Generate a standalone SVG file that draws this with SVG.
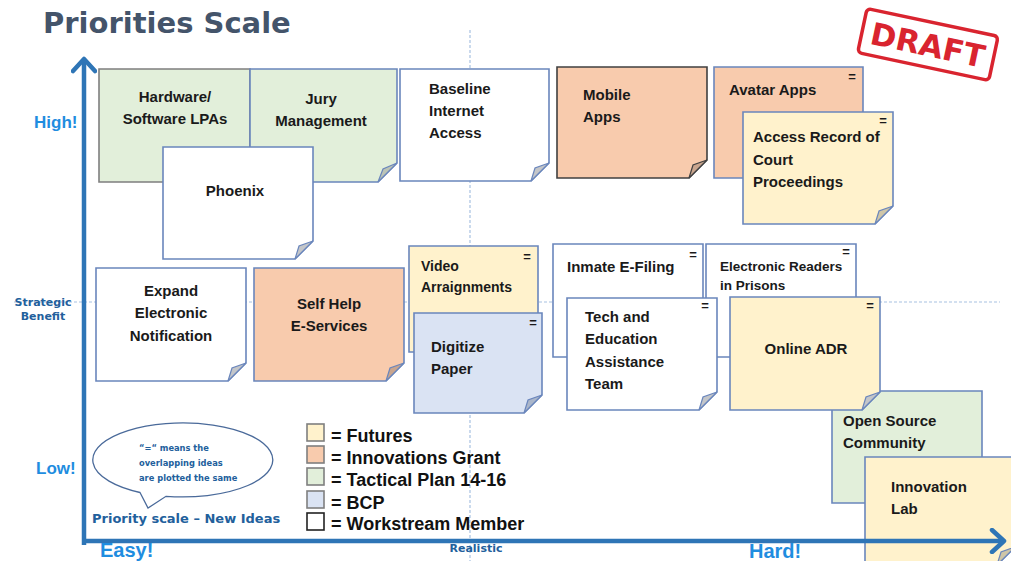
<svg xmlns="http://www.w3.org/2000/svg" width="1011" height="561" viewBox="0 0 1011 561">
<style>
.note{stroke:#6A86BC;stroke-width:1.6}
.gray{stroke:#7F7F7F}
.dark{stroke:#404040}
.w{fill:#FFFFFF}.y{fill:#FFF2CC}.o{fill:#F8CBAD}.g{fill:#E2EFDA}.b{fill:#DAE3F3}
.fold{stroke:#6A86BC;stroke-width:1.2;fill:#C4C6C9}
.fo{fill:#C9A58E}.fy{fill:#CFC6A8}.fg{fill:#BCC4B6}.fb{fill:#AAB6CA}
.t{font-family:"Liberation Sans",Arial,sans-serif;font-weight:bold;font-size:15px;fill:#1A1A1A}
.ts{font-size:14px}
.tx{font-size:13.5px}
.c{text-anchor:middle}
.eq{font-family:"Liberation Sans",Arial,sans-serif;font-weight:bold;font-size:13px;fill:#1A1A1A;text-anchor:middle}
.ax{font-family:"Liberation Sans",Arial,sans-serif;font-weight:bold;fill:#1F8DE0}
.axd{font-family:"DejaVu Sans",Verdana,sans-serif;font-weight:bold;fill:#22609C;font-size:11px;text-anchor:middle}
.leg{font-family:"Liberation Sans",Arial,sans-serif;font-weight:bold;font-size:18px;fill:#111}
.bt{font-family:"DejaVu Sans",Verdana,sans-serif;font-weight:bold;font-size:8.3px;fill:#22609C}
.sq{stroke:#7F7F7F;stroke-width:1.6}
.cross{stroke:#A7C1E2;stroke-width:1.2;fill:none}
.axis{stroke:#2E75B6;stroke-width:4.5;fill:none}
</style>
<defs>
<marker id="chev" viewBox="0 0 20 26" refX="15" refY="13" markerWidth="20" markerHeight="26" markerUnits="userSpaceOnUse" orient="auto">
<path d="M3,2 L15,13 L3,24" fill="none" stroke="#2E75B6" stroke-width="4.5" stroke-linecap="round" stroke-linejoin="round"/>
</marker>
</defs>
<rect width="1011" height="561" fill="#FFFFFF"/>
<text x="43" y="33" font-family="DejaVu Sans,Verdana,sans-serif" font-weight="bold" font-size="29" fill="#44546A">Priorities Scale</text>
<g id="draft" transform="rotate(12 928 44)">
<rect x="861" y="22" width="134" height="45" rx="4" fill="none" stroke="#D9242F" stroke-width="3.5"/>
<text x="928" y="56" font-family="DejaVu Sans,Verdana,sans-serif" font-weight="bold" font-size="31" fill="#D9242F" text-anchor="middle">DRAFT</text>
</g>
<g id="crosshair">
<line class="cross" x1="470" y1="30" x2="470" y2="561" stroke-dasharray="3 2"/>
<line class="cross" x1="14" y1="302" x2="1000" y2="302" stroke-dasharray="3 2"/>
</g>
<g id="hardware">
<path class="note gray g" d="M99,69 H250 V164 L232,182 H99 Z"/>
<text class="t c" x="175" y="102">Hardware/</text>
<text class="t c" x="175" y="124">Software LPAs</text>
</g>
<g id="jury">
<path class="note g" d="M250,69 H397 V163 L378,182 H250 Z"/>
<path class="fold fg" d="M378,182 L397,163 L383,169 Z"/>
<text class="t c" x="321" y="104">Jury</text>
<text class="t c" x="321" y="126">Management</text>
</g>
<g id="phoenix">
<path class="note w" d="M163,147 H313 V241 L295,259 H163 Z"/>
<path class="fold" d="M295,259 L313,241 L299,246 Z"/>
<text class="t c" x="235" y="196">Phoenix</text>
</g>
<g id="baseline">
<path class="note w" d="M400,69 H549 V163 L531,181 H400 Z"/>
<path class="fold" d="M531,181 L549,163 L535,168 Z"/>
<text class="t" x="429" y="94">Baseline</text>
<text class="t" x="429" y="116">Internet</text>
<text class="t" x="429" y="138">Access</text>
</g>
<g id="mobile">
<path class="note dark o" d="M557,67 H707 V160 L689,178 H557 Z"/>
<path class="fold fo" style="stroke:#404040" d="M689,178 L707,160 L693,165 Z"/>
<text class="t" x="583" y="100">Mobile</text>
<text class="t" x="583" y="122">Apps</text>
</g>
<g id="avatar">
<path class="note o" d="M714,67 H863 V160 L845,178 H714 Z"/>
<text class="t" x="729" y="95">Avatar Apps</text>
<text class="eq" x="852" y="81">=</text>
</g>
<g id="access-record">
<path class="note y" d="M743,112 H893 V206 L875,224 H743 Z"/>
<path class="fold fy" d="M875,224 L893,206 L879,211 Z"/>
<text class="eq" x="883" y="125">=</text>
<text class="t" x="753" y="142">Access Record of</text>
<text class="t" x="753" y="165">Court</text>
<text class="t" x="753" y="187">Proceedings</text>
</g>
<g id="expand">
<path class="note w" d="M96,268 H246 V363 L228,381 H96 Z"/>
<path class="fold" d="M228,381 L246,363 L232,368 Z"/>
<text class="t c" x="171" y="296">Expand</text>
<text class="t c" x="171" y="318">Electronic</text>
<text class="t c" x="171" y="341">Notification</text>
</g>
<g id="self-help">
<path class="note o" d="M254,268 H404 V363 L386,381 H254 Z"/>
<path class="fold fo" d="M386,381 L404,363 L390,368 Z"/>
<text class="t c" x="329" y="309">Self Help</text>
<text class="t c" x="329" y="331">E-Services</text>
</g>
<g id="video">
<path class="note y" d="M409,246 H538 V334 L520,352 H409 Z"/>
<text class="eq" x="527" y="261">=</text>
<text class="t ts" x="421" y="271">Video</text>
<text class="t ts" x="421" y="292">Arraignments</text>
</g>
<g id="digitize">
<path class="note b" d="M414,313 H542 V395 L524,413 H414 Z"/>
<path class="fold fb" d="M524,413 L542,395 L528,400 Z"/>
<text class="eq" x="533" y="327">=</text>
<text class="t" x="431" y="352">Digitize</text>
<text class="t" x="431" y="374">Paper</text>
</g>
<g id="inmate">
<path class="note w" d="M553,244 H703 V339 L685,357 H553 Z"/>
<text class="eq" x="693" y="259">=</text>
<text class="t" x="567" y="272">Inmate E-Filing</text>
</g>
<g id="e-readers">
<path class="note w" d="M706,244 H856 V339 L838,357 H706 Z"/>
<text class="eq" x="846" y="256">=</text>
<text class="t tx" x="720" y="271">Electronic Readers</text>
<text class="t tx" x="720" y="290">in Prisons</text>
</g>
<g id="tech">
<path class="note w" d="M567,298 H717 V392 L699,410 H567 Z"/>
<path class="fold" d="M699,410 L717,392 L703,397 Z"/>
<text class="eq" x="705" y="310">=</text>
<text class="t" x="585" y="322">Tech and</text>
<text class="t" x="585" y="344">Education</text>
<text class="t" x="585" y="367">Assistance</text>
<text class="t" x="585" y="389">Team</text>
</g>
<g id="open-source">
<path class="note g" d="M832,391 H982 V485 L964,503 H832 Z"/>
<text class="t" x="843" y="426">Open Source</text>
<text class="t" x="843" y="448">Community</text>
</g>
<g id="online-adr">
<path class="note y" d="M730,297 H880 V392 L862,410 H730 Z"/>
<path class="fold" d="M862,410 L880,392 L866,397 Z"/>
<text class="eq" x="870" y="310">=</text>
<text class="t c" x="806" y="354">Online ADR</text>
</g>
<g id="innovation-lab">
<path class="note y" d="M865,457 H1015 V547 L997,565 H865 Z"/>
<path class="fold fy" d="M997,565 L1015,547 L1001,552 Z"/>
<text class="t" x="891" y="492">Innovation</text>
<text class="t" x="891" y="514">Lab</text>
</g>
<g id="bubble">
<path d="M140,492.5 L148,508 L166,496.3 A90 37 0 1 0 140,492.5 Z" fill="#FFFFFF" stroke="#4A6A9A" stroke-width="1.3"/>
<text class="bt" x="139" y="451">“=“ means the</text>
<text class="bt" x="139" y="466">overlapping ideas</text>
<text class="bt" x="139" y="481">are plotted the same</text>
<text font-family="DejaVu Sans,Verdana,sans-serif" font-weight="bold" font-size="13" fill="#22609C" x="92" y="523">Priority scale – New Ideas</text>
</g>
<g id="legend">
<rect class="sq" x="307" y="424" width="17" height="17" fill="#FFF2CC"/>
<rect class="sq" x="307" y="446" width="17" height="17" fill="#F8CBAD"/>
<rect class="sq" x="307" y="468" width="17" height="17" fill="#E2EFDA"/>
<rect class="sq" x="307" y="491" width="17" height="17" fill="#DAE3F3"/>
<rect class="sq" x="307" y="513" width="17" height="17" fill="#FFFFFF" style="stroke:#222"/>
<text class="leg" x="331" y="442">= Futures</text>
<text class="leg" x="331" y="464">= Innovations Grant</text>
<text class="leg" x="331" y="486">= Tactical Plan 14-16</text>
<text class="leg" x="331" y="509">= BCP</text>
<text class="leg" x="331" y="530">= Workstream Member</text>
</g>
<g id="connectors">
<line class="axis" x1="84" y1="545" x2="84" y2="59" marker-end="url(#chev)"/>
<line class="axis" x1="82" y1="541" x2="1004" y2="541" marker-end="url(#chev)"/>
</g>
<g id="axis-labels">
<text class="ax" x="34" y="128" font-size="17">High!</text>
<text class="ax" x="36" y="474" font-size="17">Low!</text>
<text class="ax" x="100" y="557" font-size="20">Easy!</text>
<text class="ax" x="749" y="558" font-size="20">Hard!</text>
<text class="axd" x="43" y="306">Strategic</text>
<text class="axd" x="43" y="320">Benefit</text>
<text class="axd" x="476" y="552">Realistic</text>
</g>
</svg>
